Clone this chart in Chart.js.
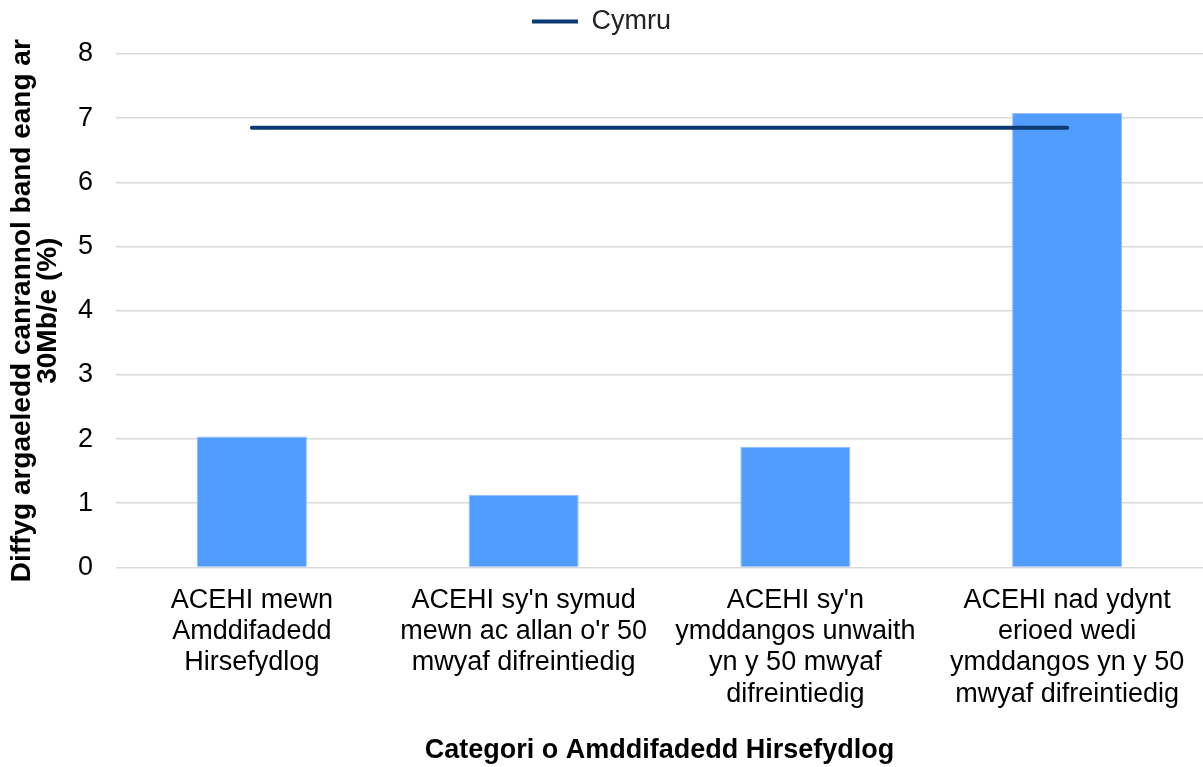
<!DOCTYPE html>
<html>
<head>
<meta charset="utf-8">
<script src="https://cdn.jsdelivr.net/npm/chart.js@4/dist/chart.umd.min.js"></script>
<style>
html,body{margin:0;padding:0;background:#fff;}
#wrap{width:1203px;height:767px;position:relative;}
</style>
</head>
<body>
<div id="wrap"><canvas id="c" width="1203" height="767"></canvas></div>
<script>
const categories = [
  ["ACEHI mewn", "Amddifadedd", "Hirsefydlog"],
  ["ACEHI sy'n symud", "mewn ac allan o'r 50", "mwyaf difreintiedig"],
  ["ACEHI sy'n", "ymddangos unwaith", "yn y 50 mwyaf", "difreintiedig"],
  ["ACEHI nad ydynt", "erioed wedi", "ymddangos yn y 50", "mwyaf difreintiedig"]
];
const barValues = [2.04, 1.13, 1.88, 7.08];
const cymruValues = [6.85, 6.85, 6.85, 6.85];
const yTicks = [0, 1, 2, 3, 4, 5, 6, 7, 8];
const seriesNames = ["Categori", "Cymru"];
const yTitle = ["Diffyg argaeledd canrannol band eang ar", "30Mb/e (%)"];
const xTitle = "Categori o Amddifadedd Hirsefydlog";

Chart.defaults.font.family = "'Liberation Sans', Arial, sans-serif";
Chart.defaults.color = "#000";

const legendGap = {
  id: 'legendGap',
  afterInit(chart) {
    const lg = chart.legend;
    if (!lg) return;
    const origFit = lg.fit.bind(lg);
    lg.fit = function () { origFit(); this.height += 9; };
  }
};

new Chart(document.getElementById('c'), {
  plugins: [legendGap],
  data: {
    labels: categories,
    datasets: [
      {
        type: 'line',
        label: seriesNames[1],
        data: cymruValues,
        borderColor: '#0c3a73',
        backgroundColor: '#0c3a73',
        borderWidth: 4,
        pointRadius: 0,
        borderCapStyle: 'round',
        order: 0
      },
      {
        type: 'bar',
        label: seriesNames[0],
        data: barValues,
        backgroundColor: '#509cff',
        borderColor: '#8fbfff',
        borderWidth: 1,
        barPercentage: 0.405,
        categoryPercentage: 1,
        order: 1
      }
    ]
  },
  options: {
    responsive: false,
    animation: false,
    layout: { padding: { top: 0, right: 0, left: 0, bottom: 0 } },
    plugins: {
      legend: {
        display: true,
        position: 'top',
        labels: {
          filter: (item) => item.text === seriesNames[1],
          usePointStyle: true,
          pointStyle: 'line',
          pointStyleWidth: 46,
          font: { size: 27 },
          color: '#222',
          padding: 8
        }
      },
      tooltip: { enabled: false }
    },
    scales: {
      x: {
        grid: { display: false, drawTicks: false },
        border: { display: false },
        ticks: {
          font: { size: 27, lineHeight: 1.15 },
          color: '#000',
          maxRotation: 0,
          autoSkip: false,
          padding: 18
        },
        title: {
          display: true,
          text: xTitle,
          font: { size: 27, weight: 'bold' },
          color: '#000',
          padding: { top: 7, bottom: 0 }
        }
      },
      y: {
        min: 0,
        max: 8,
        afterBuildTicks: (axis) => { axis.ticks = yTicks.map(v => ({ value: v })); },
        grid: { color: '#d9d9d9', lineWidth: 1.5, drawTicks: false },
        border: { display: false },
        ticks: {
          font: { size: 27 },
          color: '#000',
          padding: 23
        },
        title: {
          display: true,
          text: yTitle,
          font: { size: 28, weight: 'bold', lineHeight: 0.9 },
          color: '#000',
          padding: { top: 10, bottom: 0 }
        },
        afterFit: (axis) => { axis.width = 116; }
      }
    }
  }
});
</script>
</body>
</html>
